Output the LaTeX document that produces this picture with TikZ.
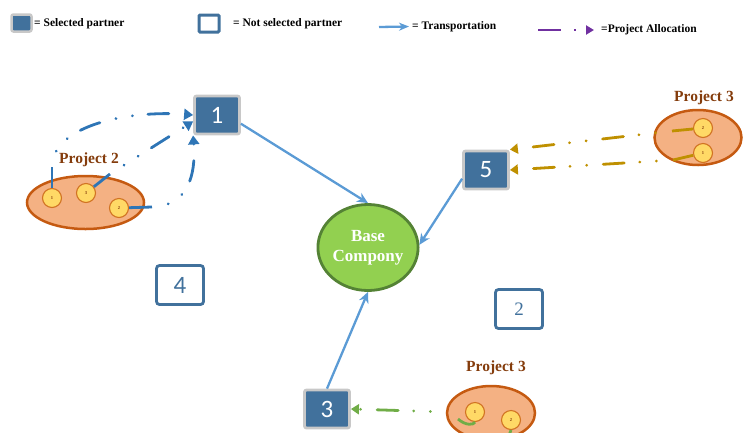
\documentclass[tikz,border=0pt]{standalone}
\usepackage{fontspec}
\setmainfont{Liberation Serif}
\newfontfamily\digitfont{Carlito}
\usetikzlibrary{arrows.meta,shapes.geometric}

\definecolor{boxblue}{HTML}{41719C}
\definecolor{selgray}{HTML}{C8C8C8}
\definecolor{transblue}{HTML}{5B9BD5}
\definecolor{allocblue}{HTML}{2E75B6}
\definecolor{allocgold}{HTML}{BF9000}
\definecolor{allocgreen}{HTML}{70AD47}
\definecolor{allocpurple}{HTML}{7030A0}
\definecolor{basefill}{HTML}{92D050}
\definecolor{basedraw}{HTML}{548235}
\definecolor{projfill}{HTML}{F4B183}
\definecolor{projdraw}{HTML}{C55A11}
\definecolor{taskfill}{HTML}{FFD966}
\definecolor{projtext}{HTML}{843C0C}

\begin{document}
\begin{tikzpicture}[x=1pt,y=-1pt]
\tikzstyle{selected}=[draw=selgray, line width=2.8pt, fill=boxblue, rounded corners=2pt,
                      minimum width=45pt, minimum height=38pt, inner sep=0pt,
                      text=white, font=\digitfont\fontsize{25}{25}\selectfont]
\tikzstyle{notsel}=[draw=boxblue, line width=2.8pt, fill=white, rounded corners=3pt,
                    minimum width=47pt, minimum height=39pt, inner sep=0pt,
                    text=boxblue, font=\digitfont\fontsize{25}{25}\selectfont]
\tikzstyle{base}=[ellipse, draw=basedraw, line width=2.8pt, fill=basefill,
                  minimum width=97pt, minimum height=86pt, inner sep=0pt, align=center,
                  text=white, font=\bfseries\fontsize{17}{20}\selectfont]
\tikzstyle{project}=[ellipse, draw=projdraw, line width=2.5pt, fill=projfill, inner sep=0pt]
\tikzstyle{task}=[circle, draw=projdraw!80!taskfill, line width=1.1pt, fill=taskfill,
                  minimum size=19pt, inner sep=0pt, font=\bfseries\fontsize{4.5}{4.5}\selectfont,
                  text=projtext]
\tikzstyle{plabel}=[inner sep=0pt, text=projtext, font=\bfseries\fontsize{15.5}{16}\selectfont]
\tikzstyle{legtext}=[anchor=west, inner sep=0pt, font=\bfseries\fontsize{11.5}{12}\selectfont]
\tikzstyle{transport}=[transblue, line width=2.3pt, -{Stealth[length=11pt,width=10pt]}]
\tikzstyle{alloc}=[line width=2.8pt, line cap=round,
                   dash pattern=on 21pt off 16.5pt on 0.2pt off 16.5pt on 0.2pt off 15.5pt,
                   dash phase=21pt]
\useasboundingbox (0,0) rectangle (743,432);

% legend
\node[selected, minimum width=20pt, minimum height=17pt, line width=2.5pt] (lsel) at (21.5,23) {};
\node[legtext] (lselt) at (34,24) {= Selected partner};
\node[notsel, minimum width=20pt, minimum height=17pt, line width=3pt, rounded corners=1pt] (lnot) at (209,23.5) {};
\node[legtext] (lnott) at (233,24) {= Not selected partner};
\coordinate (ltr1) at (379,27);
\coordinate (ltr2) at (409,26.5);
\draw[transport, -{Stealth[length=10pt,width=8pt]}] (ltr1) -- (ltr2);
\node[legtext] (ltrt) at (412,27) {= Transportation};
\coordinate (lal1) at (538,30);
\coordinate (lal2) at (594,30);
\draw[allocpurple, line width=2.6pt, dash pattern=on 23pt off 13pt on 2pt off 12pt,
      -{Triangle[length=8pt,width=9pt]}] (lal1) -- (lal2);
\node[legtext] (lalt) at (601,30) {=Project Allocation};

% partners
\node[selected] (n1) at (217,115) {1};
\node[selected] (n5) at (486,170) {5};
\node[selected] (n3) at (327,409) {3};
\node[notsel] (n4) at (180,285) {4};
\node[notsel, font=\fontsize{19}{19}\selectfont] (n2) at (519,309) {2};
\node[base] (base) at (368,247.5) {Base\\Compony};

\foreach \i/\j in {n1.-20/base.north, n5.200/base.3, n3.north/base.south}{\draw[transport] (\i) -- (\j);}

% project 2
\node[project, minimum width=117pt, minimum height=53pt] (p2) at (85.5,202.5) {};
\node[plabel] (p2lab) at (89,160) {Project 2};
\node[task] (a1) at (52,198) {1};
\node[task] (a3) at (86,193) {3};
\node[task] (a2) at (119,208) {2};
\coordinate (a1e) at (52,167);
\coordinate (a3e) at (110,174);
\coordinate (a2e) at (152,207);
\foreach \i/\j in {a1/a1e, a3/a3e, a2/a2e}{\draw[allocblue, line width=2.8pt] (\i) -- (\j);}
\draw[alloc, allocblue, -{Triangle[length=9pt,width=11pt]}] (a1e) .. controls (52,125) and (130,110) .. (n1.west);
\draw[alloc, allocblue, -{Triangle[length=9pt,width=11pt]}] (a3e) -- (n1.195);
\draw[alloc, allocblue, -{Triangle[length=9pt,width=11pt]}] (a2e) .. controls (188,206) and (196,175) .. (n1.south west);

% project 3 (top)
\node[project, minimum width=87pt, minimum height=55pt] (p3) at (698,137.5) {};
\node[plabel] (p3lab) at (704,98) {Project 3};
\node[task] (b2) at (703,128) {2};
\node[task] (b1) at (703,153) {1};
\coordinate (b2e) at (672,131);
\coordinate (b1e) at (673,160);
\foreach \i/\j in {b2/b2e, b1/b1e}{\draw[allocgold, line width=2.8pt] (\i) -- (\j);}
\draw[alloc, allocgold, -{Triangle[length=8pt,width=10pt]}] (b2e) -- (n5.north east);
\draw[alloc, allocgold, -{Triangle[length=8pt,width=10pt]}] (b1e) -- (n5.east);

% project 3 (bottom)
\node[project, minimum width=88pt, minimum height=54pt] (p4) at (491,413) {};
\node[plabel] (p4lab) at (496,368) {Project 3};
\node[task] (c1) at (475,412) {1};
\node[task] (c2) at (511,420) {2};
\coordinate (ce) at (447,412);
\draw[allocgreen, line width=2.8pt] (c1.south) .. controls (474,425) and (466,426) .. (458,419);
\draw[allocgreen, line width=2.8pt] (c2.south) -- ++(-3,8);
\draw[alloc, allocgreen, -{Triangle[length=8pt,width=10pt]}] (ce) -- (n3.east);
\end{tikzpicture}
\end{document}
